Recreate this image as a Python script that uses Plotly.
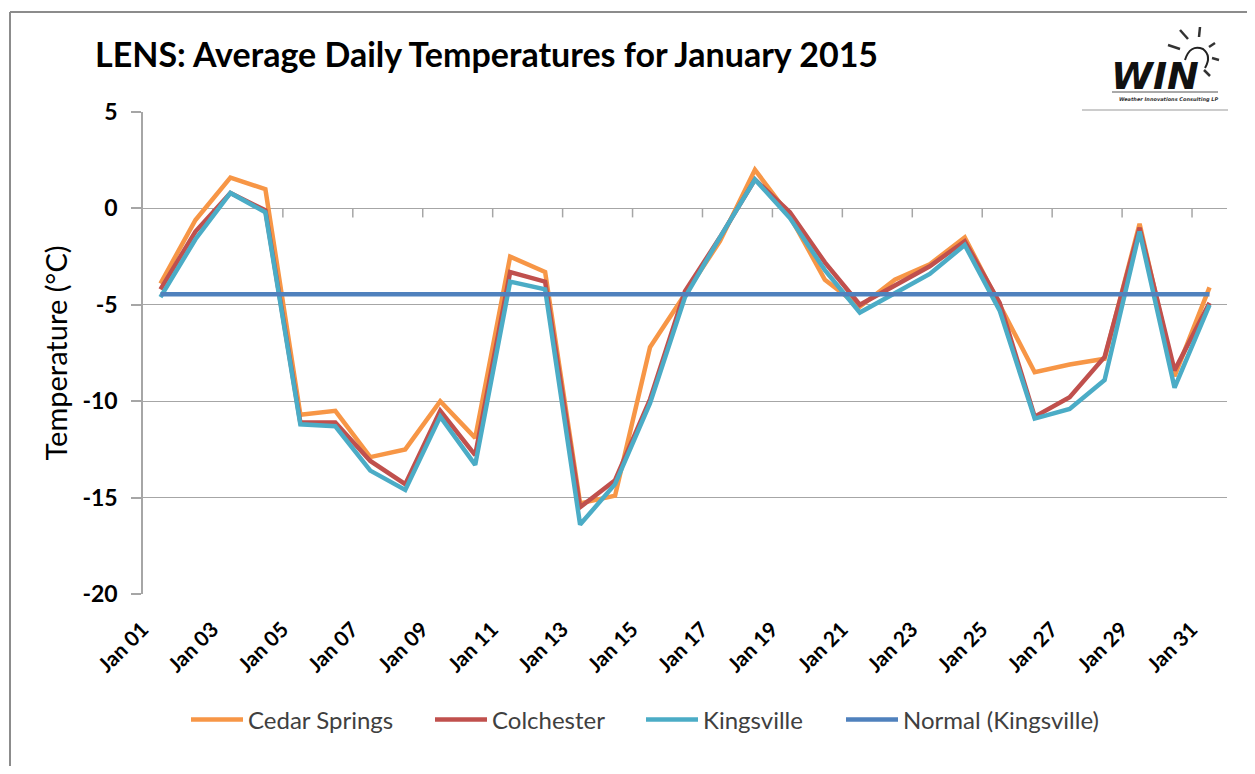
import plotly.graph_objects as go

# ---------------- data ----------------
days = [f"Jan {d:02d}" for d in range(1, 32)]
x_tick_labels = days[::2]
y_tick_values = [5, 0, -5, -10, -15, -20]
y_tick_labels = ["5", "0", "-5", "-10", "-15", "-20"]

cedar_springs = [-3.9, -0.6, 1.6, 1.0, -10.7, -10.5, -12.9, -12.5, -10.0, -11.9,
                 -2.5, -3.3, -15.3, -14.9, -7.2, -4.4, -1.7, 2.0, -0.4, -3.7,
                 -5.1, -3.7, -2.9, -1.5, -5.0, -8.5, -8.1, -7.8, -0.8, -8.7, -4.1]
colchester = [-4.2, -1.2, 0.8, -0.1, -11.1, -11.1, -13.1, -14.3, -10.5, -12.8,
              -3.3, -3.8, -15.5, -14.1, -9.9, -4.3, -1.5, 1.5, -0.2, -2.8,
              -5.0, -4.0, -3.0, -1.7, -4.9, -10.8, -9.8, -7.7, -1.0, -8.4, -4.9]
kingsville = [-4.6, -1.6, 0.8, -0.2, -11.2, -11.3, -13.6, -14.6, -10.8, -13.3,
              -3.8, -4.2, -16.4, -14.3, -10.1, -4.6, -1.5, 1.5, -0.5, -3.2,
              -5.4, -4.4, -3.4, -1.9, -5.3, -10.9, -10.4, -8.9, -1.2, -9.3, -5.0]
normal_kingsville = [-4.45] * 31

series_names = ["Cedar Springs", "Colchester", "Kingsville", "Normal (Kingsville)"]
series_values = [cedar_springs, colchester, kingsville, normal_kingsville]
series_colors = ["#F79646", "#C0504D", "#4BACC6", "#4F81BD"]
legend_widths = [177, 144, 133, 210]

# ---------------- geometry (reference-image pixels) ----------------
BODY = 8                      # default page margin around the plot div
W, H = 1255 - 2 * BODY, 774 - 2 * BODY
PL, PR, PT, PB = 143, 1227, 112, 594   # plot area in page pixels
ML, MR, MT, MB = PL - BODY, W - (PR - BODY), PT - BODY, H - (PB - BODY)


def rx(x):
    return (x - PL) / (PR - PL)


def ry(y):
    return (PB - y) / (PB - PT)


fig = go.Figure()
for name, vals, color, lw in zip(series_names, series_values, series_colors, legend_widths):
    fig.add_trace(go.Scatter(
        x=days, y=vals, name=name, mode="lines",
        line=dict(color=color, width=4.5), legendwidth=lw,
    ))

grey = "#A6A6A6"
FONT = "Lato"

shapes = []
# category-axis tick marks on the y = 0 line (between every second pair of days)
for k in range(1, len(days) - 1, 2):
    shapes.append(dict(type="line", xref="x", yref="y", ysizemode="pixel", yanchor=0,
                       x0=k + 0.5, x1=k + 0.5, y0=0, y1=-9,
                       line=dict(color=grey, width=1.5), layer="below"))

shapes += [
    dict(type="line", xref="paper", yref="paper", x0=rx(10), x1=rx(10), y0=ry(12), y1=ry(790),
         line=dict(color="#8C8C8C", width=2)),
    dict(type="line", xref="paper", yref="paper", x0=rx(10), x1=rx(1270), y0=ry(12), y1=ry(12),
         line=dict(color="#8C8C8C", width=2)),
    dict(type="line", xref="paper", yref="paper", x0=rx(1112), x1=rx(1218), y0=ry(92), y1=ry(92),
         line=dict(color="#555555", width=1)),
    dict(type="line", xref="paper", yref="paper", x0=rx(1082), x1=rx(1228), y0=ry(110), y1=ry(110),
         line=dict(color="#999999", width=1)),
    dict(type="path", xref="paper", yref="paper",
         path=f"M {rx(1185)},{ry(60)} Q {rx(1190)},{ry(44)} {rx(1203)},{ry(49)} Q {rx(1212)},{ry(56)} {rx(1205)},{ry(68)}",
         line=dict(color="#222222", width=2)),
]
rays = [((1180, 30), (1188, 39)), ((1200, 27), (1199, 37)), ((1215, 43), (1209, 47)),
        ((1219, 60), (1212, 58)), ((1210, 76), (1204, 70)), ((1168, 45), (1180, 49))]
for (x0, y0), (x1, y1) in rays:
    shapes.append(dict(type="line", xref="paper", yref="paper", x0=rx(x0), y0=ry(y0), x1=rx(x1), y1=ry(y1),
                       line=dict(color="#333333", width=2.5)))

annotations = [
    dict(text="<b><i>WIN</i></b>", xref="paper", yref="paper", x=rx(1155), y=ry(76),
         xanchor="center", yanchor="middle", showarrow=False,
         font=dict(family="DejaVu Sans", size=38, color="#111111")),
    dict(text="<b><i>Weather Innovations Consulting LP</i></b>", xref="paper", yref="paper",
         x=rx(1168), y=ry(99), xanchor="center", yanchor="middle", showarrow=False,
         font=dict(family="DejaVu Sans", size=5, color="#333333")),
]

fig.update_layout(
    width=W, height=H,
    margin=dict(l=ML, r=MR, t=MT, b=MB),
    paper_bgcolor="white", plot_bgcolor="white",
    title=dict(text="LENS: Average Daily Temperatures for January 2015",
               xref="container", yref="container", x=(95 - BODY) / W, y=1 - (55 - BODY) / H,
               xanchor="left", yanchor="middle",
               font=dict(family=FONT, size=34, color="#000000", weight="bold")),
    xaxis=dict(type="category", range=[-0.5, 30.5], tickvals=x_tick_labels, ticktext=x_tick_labels,
               tickangle=-45, ticks="", showline=False, showgrid=False, zeroline=False,
               ticklabelshift=-18, ticklabelstandoff=18,
               tickfont=dict(family=FONT, size=21, color="#000000", weight="bold")),
    yaxis=dict(range=[-20, 5], tickvals=y_tick_values, ticktext=y_tick_labels,
               showgrid=True, gridcolor=grey, gridwidth=1.2,
               zeroline=False, showline=True, linecolor=grey, linewidth=1.5,
               ticks="outside", ticklen=10, tickcolor=grey, tickwidth=1.5,
               ticklabelstandoff=9,
               tickfont=dict(family=FONT, size=23, color="#000000", weight="bold"),
               title=dict(text="Temperature (°C)", standoff=6,
                          font=dict(family=FONT, size=29, color="#000000"))),
    legend=dict(orientation="h", x=rx(186), y=ry(720), xanchor="left", yanchor="middle",
                font=dict(family=FONT, size=24, color="#404040"), itemwidth=52,
                bgcolor="rgba(0,0,0,0)"),
    showlegend=True,
    shapes=shapes,
    annotations=annotations,
)

fig.write_html("out.html")
